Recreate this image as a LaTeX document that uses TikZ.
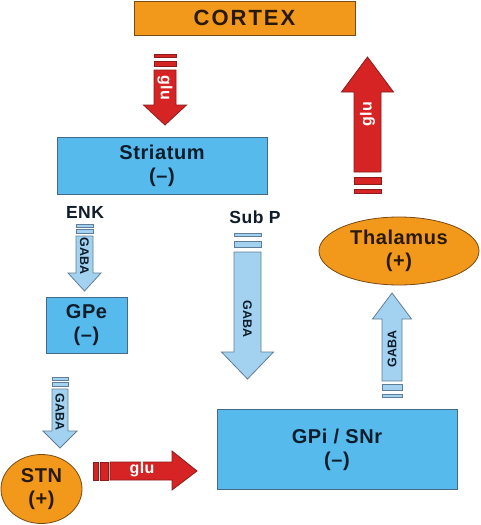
\documentclass[tikz,border=0pt]{standalone}
\usepackage{fontspec}
\setmainfont{Liberation Sans}
\newfontfamily\lblfont{Liberation Sans}[LetterSpace=3]
\newfontfamily\ctxfont{Liberation Sans}[LetterSpace=9]
\newfontfamily\smfont{Liberation Sans}[LetterSpace=3]
\usetikzlibrary{shapes.geometric}
\definecolor{orangefill}{RGB}{242,153,28}
\definecolor{orangeline}{RGB}{120,75,20}
\definecolor{boxblue}{RGB}{86,186,236}
\definecolor{boxline}{RGB}{70,105,135}
\definecolor{arrblue}{RGB}{163,210,240}
\definecolor{arrline}{RGB}{95,125,150}
\definecolor{redfill}{RGB}{214,36,36}
\definecolor{redline}{RGB}{140,28,28}
\definecolor{navytext}{RGB}{15,28,42}
\definecolor{browntext}{RGB}{40,25,10}
\newcommand\blockarrow[7]{% style, c, halfshaft, halfhead, shaft end, head base, tip
  \filldraw[#1] ({#2-#3},#5) -- ({#2+#3},#5) -- ({#2+#3},#6) -- ({#2+#4},#6)
    -- (#2,#7) -- ({#2-#4},#6) -- ({#2-#3},#6) -- cycle;}
\newcommand\vstripe[5]{\filldraw[#1] ({#2-#3},#4) rectangle ({#2+#3},#5);}
\begin{document}
\begin{tikzpicture}[x=1pt,y=-1pt,
  lbl/.style={font=\lblfont\bfseries\fontsize{20}{23}\selectfont, align=center, inner sep=0pt},
  bluebox/.style={lbl, draw=boxline, fill=boxblue, line width=1pt, text=navytext},
  orangebox/.style={lbl, draw=orangeline, fill=orangefill, line width=0.8pt, text=browntext},
  orangeell/.style={orangebox, ellipse},
  redarr/.style={fill=redfill, draw=redline, line width=0.8pt},
  bluearr/.style={fill=arrblue, draw=arrline, line width=0.8pt},
  gaba/.style={font=\smfont\bfseries\fontsize{12.5}{12.5}\selectfont, text=navytext, inner sep=0pt},
  glu/.style={font=\smfont\bfseries\fontsize{16}{16}\selectfont, text=white, inner sep=0pt},
  tag/.style={font=\smfont\bfseries\fontsize{17.5}{18}\selectfont, text=navytext, inner sep=0pt}]
\fill[white] (0,0) rectangle (480,525);
\useasboundingbox (0,0) rectangle (480,525);

% nodes
\node[orangebox, minimum width=221pt, minimum height=34pt,
  font=\ctxfont\bfseries\fontsize{22}{24}\selectfont] (cortex) at (244.5,18) {CORTEX};
\node[bluebox, minimum width=210pt, minimum height=57pt] (striatum) at (162,165.5) {Striatum\\(–)};
\node[bluebox, minimum width=81pt, minimum height=56pt] (gpe) at (86.5,325) {GPe\\(–)};
\node[bluebox, minimum width=240pt, minimum height=80pt] (gpi) at (337,449.5) {GPi / SNr\\(–)};
\node[orangeell, minimum width=160pt, minimum height=68pt] (thal) at (399,251) {Thalamus\\(+)};
\node[orangeell, minimum width=81pt, minimum height=69pt] (stn) at (41.5,489) {STN\\(+)};
\node[tag] (enk) at (85,212) {ENK};
\node[tag] (subp) at (255,217) {Sub P};

% CORTEX -> Striatum (glu)
\vstripe{redarr}{165}{11}{54}{57}
\vstripe{redarr}{165}{11}{61}{66}
\blockarrow{redarr}{165}{11}{21.5}{70}{105}{125}
\node[glu, rotate=-90] (glu1) at (165,88) {glu};

% Thalamus -> CORTEX (glu)
\vstripe{redarr}{367.5}{13.5}{189}{193}
\vstripe{redarr}{367.5}{13.5}{177}{184}
\blockarrow{redarr}{367.5}{13.5}{26}{172}{92}{57}
\node[glu, rotate=90] (glu2) at (367.5,114) {glu};

% Striatum -> GPe (GABA)
\vstripe{bluearr}{84.5}{8.5}{224}{227}
\vstripe{bluearr}{84.5}{8.5}{229}{233}
\blockarrow{bluearr}{84.5}{8.5}{16.5}{236}{273}{291}
\node[gaba, rotate=-90] (gaba1) at (84.5,256) {GABA};

% Striatum -> GPi (GABA, Sub P)
\vstripe{bluearr}{247.5}{13.5}{233}{236}
\vstripe{bluearr}{247.5}{13.5}{241}{247}
\blockarrow{bluearr}{247.5}{13.5}{26}{252}{352}{379}
\node[gaba, rotate=-90] (gaba2) at (247.5,319) {GABA};

% GPe -> STN (GABA)
\vstripe{bluearr}{60}{8}{377}{380}
\vstripe{bluearr}{60}{8}{382}{386}
\blockarrow{bluearr}{60}{8}{17}{389}{431}{448}
\node[gaba, rotate=-90] (gaba3) at (60,412) {GABA};

% GPi -> Thalamus (GABA)
\vstripe{bluearr}{392}{10}{394}{397}
\vstripe{bluearr}{392}{10}{384}{390}
\blockarrow{bluearr}{392}{10}{19.5}{381}{319}{293}
\node[gaba, rotate=90] (gaba4) at (392,349) {GABA};

% STN -> GPi (glu)
\filldraw[redarr] (93,462) rectangle (98,480);
\filldraw[redarr] (100,462) rectangle (108,480);
\filldraw[redarr] (110,462) -- (172,462) -- (172,451) -- (197,471) -- (172,490) -- (172,480) -- (110,480) -- cycle;
\node[glu] (glu3) at (142,469.5) {glu};
\end{tikzpicture}
\end{document}
